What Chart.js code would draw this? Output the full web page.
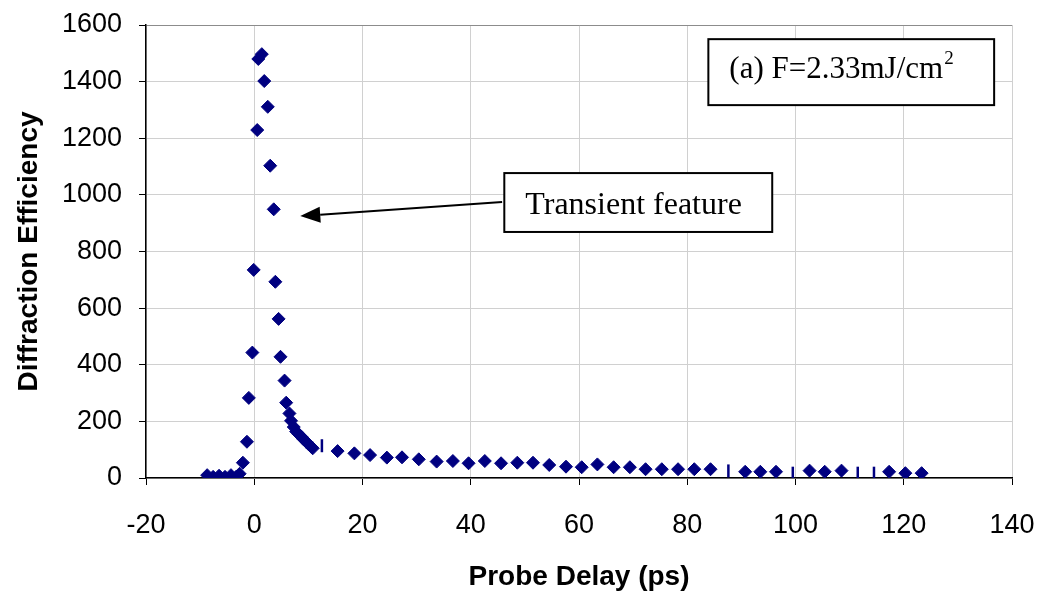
<!DOCTYPE html>
<html>
<head>
<meta charset="utf-8">
<script src="https://cdn.jsdelivr.net/npm/chart.js@4.4.0/dist/chart.umd.min.js"></script>
<style>
html,body{margin:0;padding:0;background:#fff}
#wrap{width:1042px;height:594px}
</style>
</head>
<body>
<div id="wrap"><canvas id="chartDE" width="1042" height="594"></canvas></div>
<script>
// === data ===
const delayPs=[-8.7,-7.6,-6.5,-5.4,-4.3,-3.3,-2.7,-2.1,-1.35,-1.0,-0.35,-0.1,
  0.55,0.75,1.4,1.85,2.5,2.95,3.6,3.9,4.5,4.85,5.6,5.9,6.5,6.8,7.3,7.75,8.2,8.7,9.1,9.6,
  10.0,10.5,10.8,12.5,15.4,18.5,21.4,24.5,27.3,30.4,33.7,36.7,39.6,42.6,45.6,48.6,51.5,54.5,
  57.6,60.5,63.4,66.4,69.4,72.3,75.3,78.3,81.3,84.3,87.6,90.7,93.5,96.4,99.5,102.6,105.4,
  108.5,111.5,114.5,117.3,120.3,123.3];
const efficiency=[10,4,8,4,10,5,15,54,128,283,443,735,
  1229,1480,1497,1402,1311,1103,949,693,562,428,344,266,228,202,180,164,155,146,137,128,
  120,111,105,114,95,87,81,72,73,66,58,60,52,60,52,54,54,46,
  40,38,48,38,38,31,31,31,31,31,25,22,22,22,17,26,22,
  26,17,17,22,17,17];
// points that the original renders as short vertical dashes
const dashIdx=[35,60,64,68,69];
const xTicks=[-20,0,20,40,60,80,100,120,140];
const yTicks=[0,200,400,600,800,1000,1200,1400,1600];

const navy="#000080";
const sans="'Liberation Sans', Arial, sans-serif";
const serif="'Liberation Serif', 'Times New Roman', serif";

// === annotations (boxes + arrow), placed in data units ===
const notes={
  id:"notes",
  afterDatasetsDraw(chart){
    const {ctx,scales:{x,y}}=chart;
    ctx.save();
    ctx.strokeStyle="#000";ctx.fillStyle="#000";ctx.lineWidth=2;

    // fluence box
    let x0=x.getPixelForValue(83.9),y0=y.getPixelForValue(1550);
    let x1=x.getPixelForValue(136.7),y1=y.getPixelForValue(1317);
    ctx.fillStyle="#fff";ctx.fillRect(x0,y0,x1-x0,y1-y0);
    ctx.strokeRect(x0,y0,x1-x0,y1-y0);
    ctx.fillStyle="#000";
    ctx.font="31px "+serif;ctx.textBaseline="alphabetic";ctx.textAlign="left";
    const t1="(a) F=2.33mJ/cm";
    ctx.fillText(t1,x0+21,y0+39);
    const w1=ctx.measureText(t1).width;
    ctx.font="19px "+serif;
    ctx.fillText("2",x0+21+w1+1,y0+25);

    // transient box
    x0=x.getPixelForValue(46.2);y0=y.getPixelForValue(1077);
    x1=x.getPixelForValue(95.7);y1=y.getPixelForValue(869);
    ctx.fillStyle="#fff";ctx.fillRect(x0,y0,x1-x0,y1-y0);
    ctx.strokeRect(x0,y0,x1-x0,y1-y0);
    ctx.fillStyle="#000";
    ctx.font="32px "+serif;
    ctx.fillText("Transient feature",x0+21,y0+41);

    // arrow
    const ax=x.getPixelForValue(45.8),ay=y.getPixelForValue(975);
    const bx=x.getPixelForValue(8.5),by=y.getPixelForValue(925);
    const ang=Math.atan2(by-ay,bx-ax),hl=20,hw=8;
    const hx=bx-Math.cos(ang)*hl,hy=by-Math.sin(ang)*hl;
    ctx.beginPath();ctx.moveTo(ax,ay);ctx.lineTo(hx,hy);ctx.stroke();
    ctx.beginPath();
    ctx.moveTo(bx,by);
    ctx.lineTo(hx+Math.sin(ang)*hw,hy-Math.cos(ang)*hw);
    ctx.lineTo(hx-Math.sin(ang)*hw,hy+Math.cos(ang)*hw);
    ctx.closePath();ctx.fill();
    ctx.restore();
  }
};

const isDash=c=>dashIdx.includes(c.dataIndex);
// fix axis boxes so the plot area lands where the original has it
function noPad(s){s.paddingLeft=0;s.paddingRight=0;s.paddingTop=0;s.paddingBottom=0;}

new Chart(document.getElementById("chartDE"),{
  type:"scatter",
  data:{datasets:[{
    data:delayPs.map((v,i)=>({x:v,y:efficiency[i]})),
    backgroundColor:navy,borderColor:navy,
    pointStyle:c=>isDash(c)?"line":"rectRot",
    rotation:c=>isDash(c)?90:0,
    radius:6.5,
    borderWidth:c=>isDash(c)?2.5:1,
    hoverRadius:7
  }]},
  options:{
    responsive:false,animation:false,devicePixelRatio:1,
    layout:{padding:{left:0,right:30,top:25,bottom:0}},
    plugins:{legend:{display:false},tooltip:{enabled:false}},
    scales:{
      x:{type:"linear",min:-20,max:140,
        afterBuildTicks:s=>{s.ticks=xTicks.map(v=>({value:v}));},
        afterFit:s=>{s.height=594-478;noPad(s);},
        grid:{color:"#d0d0d0",tickColor:"#000",tickLength:7,lineWidth:1},
        border:{color:"#000",width:1.5},
        ticks:{color:"#000",font:{family:sans,size:27},padding:24,maxRotation:0,
          callback:v=>String(v)},
        title:{display:true,text:"Probe Delay (ps)",color:"#000",
          font:{family:sans,size:28,weight:"bold"},padding:{top:11,bottom:0}}
      },
      y:{type:"linear",min:0,max:1600,
        afterBuildTicks:s=>{s.ticks=yTicks.map(v=>({value:v}));},
        afterFit:s=>{s.width=146;noPad(s);},
        grid:{color:c=>c.tick&&c.tick.value===1600?"#8c8c8c":"#d0d0d0",tickColor:"#000",tickLength:7,lineWidth:1},
        border:{color:"#000",width:1.5},
        ticks:{color:"#000",font:{family:sans,size:27},padding:17,callback:v=>String(v)},
        title:{display:true,text:"Diffraction Efficiency",color:"#000",
          font:{family:sans,size:28,weight:"bold"},padding:{top:12,bottom:0}}
      }
    }
  },
  plugins:[notes]
});
</script>
</body>
</html>
